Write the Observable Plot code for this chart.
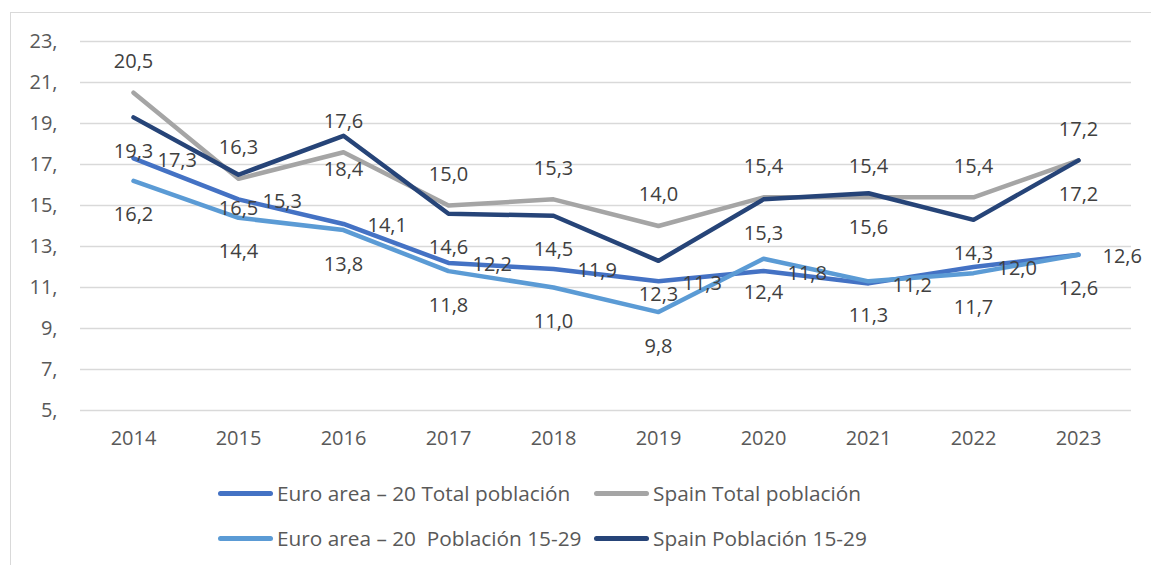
<!DOCTYPE html>
<html>
<head>
<meta charset="utf-8">
<script src="https://cdn.jsdelivr.net/npm/d3@7"></script>
<script src="https://cdn.jsdelivr.net/npm/@observablehq/plot@0.6"></script>
<style>
  html, body { margin: 0; padding: 0; background: #fff; }
  body { width: 1151px; height: 565px; overflow: hidden; position: relative; font-family: "Open Sans", Lato, sans-serif; }
  #frame { position: absolute; left: 10px; top: 12px; width: 1150px; height: 560px; border: 1px solid #d9d9d9; box-sizing: border-box; }
  #chart { position: absolute; left: 0; top: 0; }
  .leg { position: absolute; display: flex; align-items: center; font-size: 20.8px; color: #595959; white-space: pre; }
  .sw { width: 55px; height: 5px; border-radius: 2.5px; margin-right: 4px; }
</style>
</head>
<body>
<div id="frame"></div>
<div id="chart"></div>
<div id="legend"></div>
<script>
const years = [2014, 2015, 2016, 2017, 2018, 2019, 2020, 2021, 2022, 2023];
const seriesNames = [
  "Euro area – 20 Total población",
  "Spain Total población",
  "Euro area – 20  Población 15-29",
  "Spain Población 15-29"
];
const euroTotal = [17.3, 15.3, 14.1, 12.2, 11.9, 11.3, 11.8, 11.2, 12.0, 12.6];
const spainTotal = [20.5, 16.3, 17.6, 15.0, 15.3, 14.0, 15.4, 15.4, 15.4, 17.2];
const euroYouth = [16.2, 14.4, 13.8, 11.8, 11.0, 9.8, 12.4, 11.3, 11.7, 12.6];
const spainYouth = [19.3, 16.5, 18.4, 14.6, 14.5, 12.3, 15.3, 15.6, 14.3, 17.2];
const yTicks = [5, 7, 9, 11, 13, 15, 17, 19, 21, 23];

const colors = ["#4472C4", "#A5A5A5", "#5B9BD5", "#264478"];
const labelPlacement = ["right", "above", "below", "below"];
const valuesList = [euroTotal, spainTotal, euroYouth, spainYouth];

const rows = [];
valuesList.forEach((vals, si) => {
  vals.forEach((v, i) => rows.push({year: String(years[i]), value: v, series: seriesNames[si], si}));
});
const fmt = v => v.toFixed(1).replace(".", ",");

const marks = [
  Plot.ruleY(yTicks, {stroke: "#d9d9d9", strokeWidth: 1.5})
];
seriesNames.forEach((name, si) => {
  marks.push(Plot.line(rows.filter(r => r.si === si), {
    x: "year", y: "value", stroke: colors[si], strokeWidth: 4.5,
    strokeLinecap: "round", strokeLinejoin: "round"
  }));
});
seriesNames.forEach((name, si) => {
  const p = labelPlacement[si];
  marks.push(Plot.text(rows.filter(r => r.si === si), {
    x: "year", y: "value", text: d => fmt(d.value),
    dx: p === "right" ? 24 : 0,
    dy: p === "above" ? -31 : p === "below" ? 34 : 2,
    textAnchor: p === "right" ? "start" : "middle",
    fill: "#404040", fontSize: 20
  }));
});

const chart = Plot.plot({
  width: 1151,
  height: 470,
  marginLeft: 80,
  marginRight: 20,
  marginTop: 41,
  marginBottom: 60,
  style: {fontFamily: "'Open Sans', Lato, sans-serif", fontSize: "20px", color: "#595959", background: "transparent", overflow: "visible"},
  x: {type: "point", domain: years.map(String), padding: 0.5, label: null, tickSize: 0, tickPadding: 20},
  y: {domain: [5, 23], ticks: yTicks, tickFormat: d => d + ",", label: null, tickSize: 0, tickPadding: 23},
  marks
});
document.getElementById("chart").appendChild(chart);

const legend = document.getElementById("legend");
const legPos = [[218, 493], [594, 493], [218, 538], [594, 538]];
seriesNames.forEach((name, si) => {
  const d = document.createElement("div");
  d.className = "leg";
  d.style.left = legPos[si][0] + "px";
  d.style.top = (legPos[si][1] - 15) + "px";
  d.style.height = "30px";
  const sw = document.createElement("div");
  sw.className = "sw";
  sw.style.background = colors[si];
  const t = document.createElement("span");
  t.textContent = name;
  d.appendChild(sw); d.appendChild(t);
  legend.appendChild(d);
});
</script>
</body>
</html>
